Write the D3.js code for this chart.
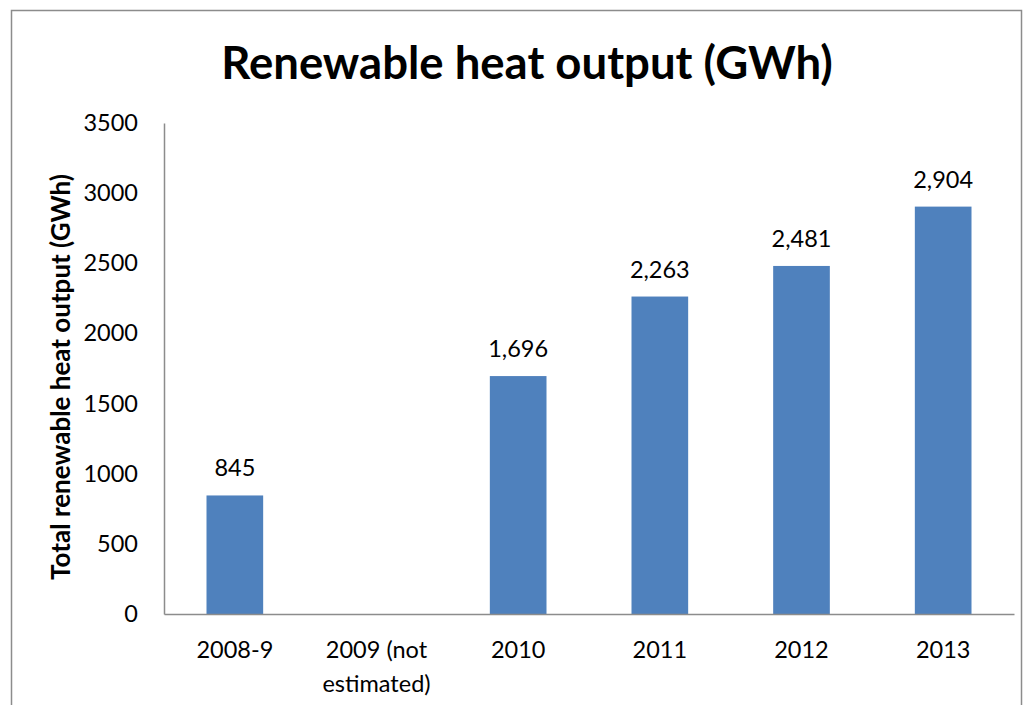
<!DOCTYPE html>
<html><head><meta charset="utf-8">
<script src="https://cdn.jsdelivr.net/npm/d3@7"></script>
<style>body{margin:0;background:#fff}svg{display:block}text{font-family:Lato,"Open Sans",sans-serif}</style>
</head><body>
<script>
const categories = [["2008-9"], ["2009 (not", "estimated)"], ["2010"], ["2011"], ["2012"], ["2013"]];
const values = [845, null, 1696, 2263, 2481, 2904];
const valueLabels = ["845", "", "1,696", "2,263", "2,481", "2,904"];
const yTicks = [0, 500, 1000, 1500, 2000, 2500, 3000, 3500];
const title = "Renewable heat output (GWh)";
const yTitle = "Total renewable heat output (GWh)";

(function () {
const W = 1033, H = 705, FS = 23.5;
const svg = d3.select("body").append("svg").attr("width", W).attr("height", H);
svg.append("rect").attr("x", 11.5).attr("y", 10.5).attr("width", 1010).attr("height", 720)
  .attr("fill", "#fff").attr("stroke", "#8c8c8c").attr("stroke-width", 1.5);

const pL = 164, pR = 1014, pT = 123, pB = 614;
const idx = d3.range(categories.length);
const x = d3.scaleBand().domain(idx).range([pL, pR]).paddingInner(0.6).paddingOuter(0.3);
const y = d3.scaleLinear().domain([0, 3500]).range([pB, pT]);

svg.append("text").attr("x", 527).attr("y", 79).attr("text-anchor", "middle")
  .attr("font-size", 45.5).attr("font-weight", "bold").text(title);

const yAxis = svg.append("g").attr("transform", `translate(${pL},0)`)
  .call(d3.axisLeft(y).tickValues(yTicks).tickSize(0).tickPadding(26).tickFormat(d3.format("d")));
yAxis.select(".domain").attr("stroke", "#8c8c8c").attr("stroke-width", 1.5);
yAxis.selectAll("text").attr("font-size", FS).attr("fill", "#000").attr("font-family", "Lato");

svg.selectAll("rect.bar").data(idx.filter(i => values[i] != null)).enter().append("rect")
  .attr("class", "bar")
  .attr("x", i => x(i)).attr("width", x.bandwidth())
  .attr("y", i => y(values[i])).attr("height", i => pB - y(values[i]))
  .attr("fill", "#4f81bd");

const xAxis = svg.append("g").attr("transform", `translate(0,${pB})`)
  .call(d3.axisBottom(x).tickSize(0).tickFormat(""));
xAxis.select(".domain").attr("stroke", "#8c8c8c").attr("stroke-width", 1.5);
xAxis.selectAll(".tick").each(function(i) {
  const t = d3.select(this).append("text").attr("fill", "#000").attr("font-size", FS)
    .attr("text-anchor", "middle").attr("font-family", "Lato");
  categories[i].forEach((line, k) => t.append("tspan").attr("x", 0).attr("y", 44 + k * 34).text(line));
});

svg.selectAll("text.val").data(idx.filter(i => values[i] != null)).enter().append("text")
  .attr("class", "val").attr("text-anchor", "middle").attr("font-size", FS)
  .attr("x", i => x(i) + x.bandwidth() / 2).attr("y", i => y(values[i]) - 19)
  .text(i => valueLabels[i]);

svg.append("text").attr("transform", `translate(70,377) rotate(-90)`)
  .attr("text-anchor", "middle").attr("font-size", 26).attr("font-weight", "bold").text(yTitle);
})();
</script>
</body></html>
